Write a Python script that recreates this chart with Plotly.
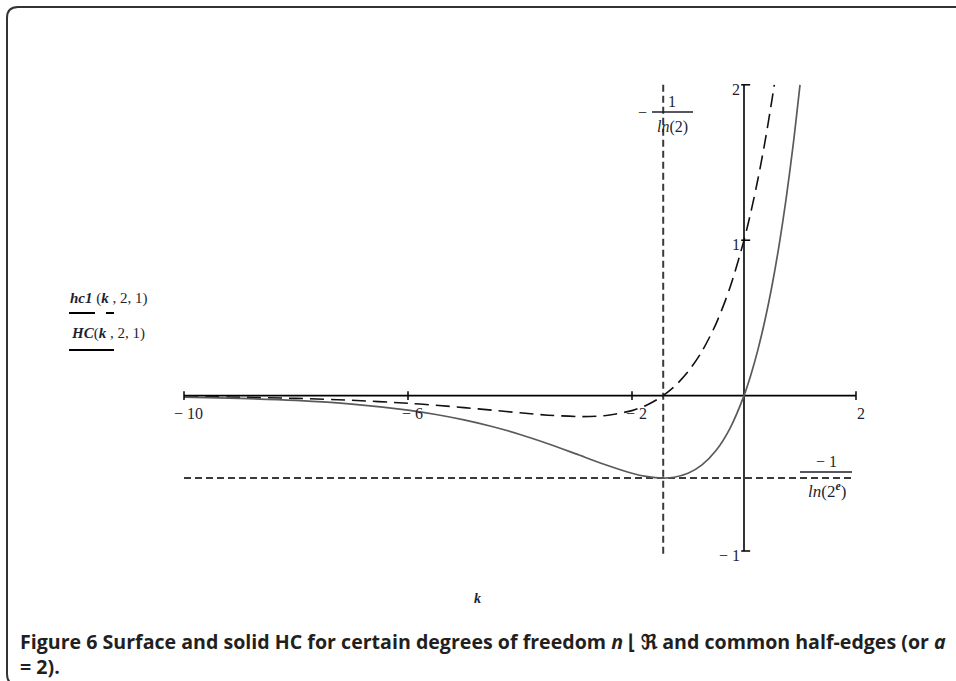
import plotly.graph_objects as go

# HC(k,2,1): solid curve, sampled values
HC_K = [-10, -9, -8, -7, -6, -5.5, -5, -4.5, -4, -3.5, -3, -2.5, -2, -1.75, -1.4427,
        -1.25, -1, -0.75, -0.5, -0.25, 0, 0.125, 0.25, 0.375, 0.5, 0.625, 0.75, 0.875, 1.0]
HC_V = [-0.0098, -0.0176, -0.0313, -0.0547, -0.0938, -0.1215, -0.1563, -0.1989, -0.25,
        -0.3094, -0.375, -0.4419, -0.5, -0.5203, -0.5307, -0.5256, -0.5, -0.4459, -0.3536,
        -0.2102, 0.0, 0.1363, 0.2973, 0.4863, 0.7071, 0.9639, 1.2613, 1.6048, 2.0]

# hc1(k,2,1): dashed curve, sampled values
HC1_K = [-10, -9, -8, -7, -6, -5.5, -5, -4.5, -4, -3.5, -2.885, -2.5, -2, -1.75, -1.5,
         -1.25, -1, -0.75, -0.5, -0.25, 0, 0.125, 0.25, 0.375, 0.5, 0.541]
HC1_V = [-0.0058, -0.0102, -0.0178, -0.0301, -0.0494, -0.0621, -0.0771, -0.0937, -0.1108,
         -0.1260, -0.1353, -0.1296, -0.0966, -0.0633, -0.0140, 0.0562, 0.1534, 0.2855,
         0.4620, 0.6952, 1.0, 1.1850, 1.3953, 1.6339, 1.9043, 2.0]

# marker lines: k = -1/ln(2), value = -1/ln(2^e)
K_MARK = -1.4427
V_MARK = -0.5307

# axis extents and ticks
X_MIN, X_MAX = -10, 2
Y_MIN, Y_MAX = -1, 2
X_TICKS = [-10, -6, -2, 2]
X_TICK_TEXT = ["\u2212 10", "\u2212 6", "\u2212 2", "2"]
Y_TICKS = [2, 1, -1]
Y_TICK_TEXT = ["2", "1", "\u2212 1"]

W, H = 956, 681
# pixel geometry of the graph: origin and scale
PX0, PXS = 744.0, 56.0
PY0, PYS = 395.6, 155.4
XR = [-PX0 / PXS, (W - PX0) / PXS]
YR = [-(H - PY0) / PYS, PY0 / PYS]


def dx(px):
    return (px - PX0) / PXS


def dy(py):
    return (PY0 - py) / PYS


def fx(px):
    return px / W


def fy(py):
    return 1 - py / H


MATH = "Liberation Serif"
INK = "#1f1f30"

fig = go.Figure()

# axes
fig.add_trace(go.Scatter(x=[X_MIN, X_MAX], y=[0, 0], mode="lines",
                         line=dict(color="black", width=1.6), hoverinfo="skip"))
fig.add_trace(go.Scatter(x=[0, 0], y=[Y_MIN, Y_MAX], mode="lines",
                         line=dict(color="black", width=1.6), hoverinfo="skip"))

# dashed marker lines
fig.add_trace(go.Scatter(x=[X_MIN, 1.93], y=[V_MARK, V_MARK], mode="lines",
                         line=dict(color="#3a3a3a", width=2, dash="7px,4px"), hoverinfo="skip"))
fig.add_trace(go.Scatter(x=[K_MARK, K_MARK], y=[Y_MAX, -1.02], mode="lines",
                         line=dict(color="#3a3a3a", width=2, dash="7px,4px"), hoverinfo="skip"))

# curves
fig.add_trace(go.Scatter(x=HC1_K, y=HC1_V, mode="lines", name="hc1(k,2,1)",
                         line=dict(color="#111111", width=1.6, dash="14px,7px",
                                   shape="spline", smoothing=0.8)))
fig.add_trace(go.Scatter(x=HC_K, y=HC_V, mode="lines", name="HC(k,2,1)",
                         line=dict(color="#5a5a5a", width=1.7, shape="spline", smoothing=0.8)))

shapes = []
# x ticks
for t in X_TICKS:
    shapes.append(dict(type="line", xref="x", yref="y", x0=t, x1=t, y0=-0.028, y1=0.028,
                       line=dict(color="black", width=1.5)))
# y ticks
for t in Y_TICKS:
    shapes.append(dict(type="line", xref="x", yref="y", x0=-0.05, x1=0.11, y0=t, y1=t,
                       line=dict(color="black", width=1.5)))

# fraction bars
shapes.append(dict(type="line", xref="x", yref="y", x0=dx(652), x1=dx(693), y0=dy(112), y1=dy(112),
                   line=dict(color=INK, width=1.3)))
shapes.append(dict(type="line", xref="x", yref="y", x0=dx(800), x1=dx(852), y0=dy(472), y1=dy(472),
                   line=dict(color=INK, width=1.3)))

# trace-style underlines of the left-hand labels
shapes.append(dict(type="line", xref="x", yref="y", x0=dx(69), x1=dx(95), y0=dy(313), y1=dy(313),
                   line=dict(color="black", width=2)))
shapes.append(dict(type="line", xref="x", yref="y", x0=dx(106), x1=dx(114), y0=dy(313), y1=dy(313),
                   line=dict(color="black", width=2)))
shapes.append(dict(type="line", xref="x", yref="y", x0=dx(69), x1=dx(114), y0=dy(350), y1=dy(350),
                   line=dict(color="black", width=2)))

# rounded frame (top and left edges)
frame = (f"M {fx(956)},{fy(7)} L {fx(18)},{fy(7)} Q {fx(7)},{fy(7)} {fx(7)},{fy(18)} "
         f"L {fx(7)},{fy(674)} Q {fx(7)},{fy(685)} {fx(18)},{fy(685)}")
shapes.append(dict(type="path", xref="paper", yref="paper", path=frame,
                   line=dict(color="#333333", width=2)))

ann = []
for t, s in zip(X_TICKS, X_TICK_TEXT):
    ann.append(dict(x=t + 0.085, y=dy(413), xref="x", yref="y", text=s, showarrow=False,
                    xanchor="center", yanchor="middle", font=dict(family=MATH, size=16, color=INK)))
for t, s in zip(Y_TICKS, Y_TICK_TEXT):
    ann.append(dict(x=dx(742), y=t - 0.028, xref="x", yref="y", text=s, showarrow=False,
                    xanchor="right", yanchor="middle", font=dict(family=MATH, size=16, color=INK)))

# -1/ln(2)
ann.append(dict(x=dx(642), y=dy(112), xref="x", yref="y", text="\u2212", showarrow=False,
                xanchor="center", yanchor="middle", font=dict(family=MATH, size=16, color=INK)))
ann.append(dict(x=dx(672), y=dy(101), xref="x", yref="y", text="1", showarrow=False,
                xanchor="center", yanchor="middle", font=dict(family=MATH, size=16, color=INK)))
ann.append(dict(x=dx(672), y=dy(127), xref="x", yref="y", text="<i>ln</i>(2)", showarrow=False,
                xanchor="center", yanchor="middle", font=dict(family=MATH, size=16, color=INK)))

# -1/ln(2^e)
ann.append(dict(x=dx(826), y=dy(461), xref="x", yref="y", text="\u2212 1", showarrow=False,
                xanchor="center", yanchor="middle", font=dict(family=MATH, size=16, color=INK)))
ann.append(dict(x=dx(827), y=dy(490), xref="x", yref="y",
                text="<i>ln</i>(2<sup><b><i>e</i></b></sup>)",
                showarrow=False, xanchor="center", yanchor="middle",
                font=dict(family=MATH, size=17, color=INK)))

# left-hand function labels
ann.append(dict(x=dx(68), y=dy(298), xref="x", yref="y",
                text="<b><i>hc1</i></b> (<b><i>k</i></b> , 2, 1)", showarrow=False,
                xanchor="left", yanchor="middle", font=dict(family=MATH, size=15, color=INK)))
ann.append(dict(x=dx(69), y=dy(333), xref="x", yref="y",
                text="<b><i>HC</i></b>(<b><i>k</i></b> , 2, 1)", showarrow=False,
                xanchor="left", yanchor="middle", font=dict(family=MATH, size=15, color=INK)))

# k axis label
ann.append(dict(x=dx(477), y=dy(598), xref="x", yref="y", text="<b><i>k</i></b>", showarrow=False,
                xanchor="center", yanchor="middle", font=dict(family=MATH, size=14, color=INK)))

# caption
caption = ("<b>Figure 6</b> Surface and solid HC for certain degrees of freedom <i>n</i> \u230a "
           "\u211c and common half-edges (or <i>a</i><br>= 2).")
ann.append(dict(x=fx(18), y=fy(626), xref="paper", yref="paper", text=caption, showarrow=False,
                xanchor="left", yanchor="top", align="left",
                font=dict(family="Open Sans", size=19.6, color="#231f20", weight="bold")))

fig.update_layout(
    width=W, height=H,
    margin=dict(l=0, r=0, t=0, b=0),
    paper_bgcolor="white", plot_bgcolor="white",
    showlegend=False,
    xaxis=dict(range=XR, visible=False, fixedrange=True),
    yaxis=dict(range=YR, visible=False, fixedrange=True),
    shapes=shapes, annotations=ann,
)

fig.write_html("out.html")
